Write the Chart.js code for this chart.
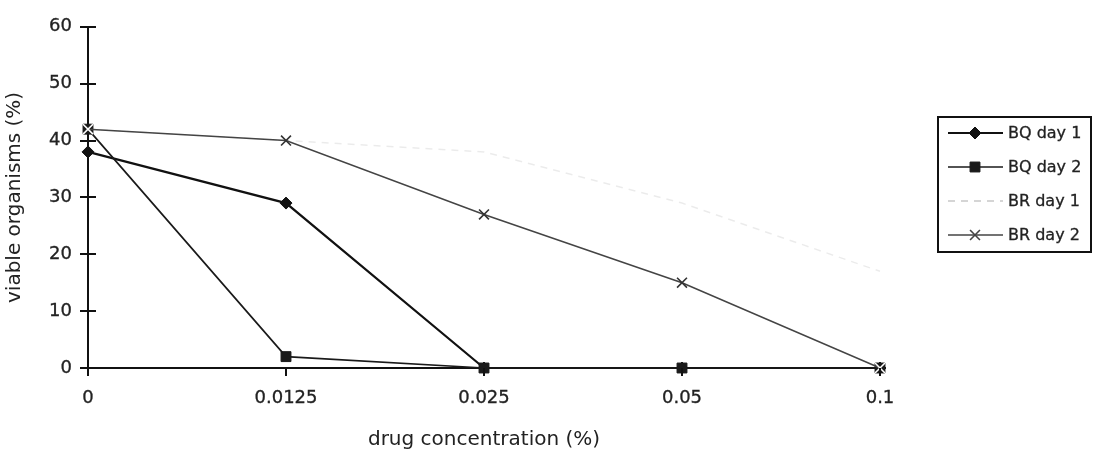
<!DOCTYPE html>
<html>
<head>
<meta charset="utf-8">
<script src="https://cdn.jsdelivr.net/npm/chart.js@4.4.1/dist/chart.umd.min.js"></script>
<style>
  html, body { margin: 0; padding: 0; background: #fff; }
  #wrap { width: 1117px; height: 460px; }
</style>
</head>
<body>
<div id="wrap"><canvas id="c" width="1117" height="460"></canvas></div>
<script>
// Drug concentrations (%) along the x axis
const concentrations = ['0', '0.0125', '0.025', '0.05', '0.1'];

// Viable organisms (%) per series
const bqDay1 = [38, 29, 0, 0, 0];
const bqDay2 = [42, 2, 0, 0, 0];
const brDay1 = [42, 40, 38, 29, 17];
const brDay2 = [42, 40, 27, 15, 0];

// Y axis tick values
const yTicks = [0, 10, 20, 30, 40, 50, 60];

const FONT = '"DejaVu Sans", "Liberation Sans", Arial, sans-serif';
const TEXT = '#222';

// Cross-shaped tick marks on the value axis and downward ticks on the category axis
const axisTicks = {
  id: 'axisTicks',
  afterDatasetsDraw(chart) {
    const { ctx, scales } = chart;
    const x0 = scales.x.left, y0 = scales.y.bottom;
    ctx.save();
    ctx.strokeStyle = '#111';
    ctx.lineWidth = 2;
    ctx.beginPath();
    yTicks.forEach(v => {
      const y = Math.round(scales.y.getPixelForValue(v));
      ctx.moveTo(x0 - 8, y); ctx.lineTo(x0 + 8, y);
    });
    concentrations.forEach((c, i) => {
      const x = Math.round(scales.x.getPixelForValue(i));
      ctx.moveTo(x, y0); ctx.lineTo(x, y0 + 8);
    });
    ctx.stroke();
    ctx.restore();
  }
};

// Boxed legend at the right
const boxLegend = {
  id: 'boxLegend',
  afterDraw(chart) {
    const { ctx } = chart;
    const left = 938, top = 117, right = 1091, bottom = 252;
    ctx.save();
    ctx.strokeStyle = '#111';
    ctx.lineWidth = 2;
    ctx.strokeRect(left, top, right - left, bottom - top);
    const rows = [133, 167, 201, 235];
    chart.data.datasets.forEach((ds, i) => {
      const y = rows[i];
      ctx.save();
      ctx.strokeStyle = ds.legendLineColor || ds.borderColor;
      ctx.lineWidth = ds.borderWidth;
      ctx.setLineDash(ds.borderDash || []);
      ctx.beginPath();
      ctx.moveTo(948, y); ctx.lineTo(1003, y);
      ctx.stroke();
      ctx.restore();
      if (ds.pointStyle && ds.pointRadius > 0) {
        ctx.save();
        ctx.fillStyle = ds.legendPointColor;
        ctx.strokeStyle = ds.legendPointColor;
        ctx.lineWidth = ds.pointBorderWidth;
        Chart.helpers.drawPoint(ctx, {
          pointStyle: ds.pointStyle,
          radius: ds.pointRadius,
          borderWidth: ds.pointBorderWidth,
          rotation: 0
        }, 975, y);
        ctx.restore();
      }
      ctx.fillStyle = TEXT;
      ctx.strokeStyle = TEXT;
      ctx.lineWidth = 0.3;
      ctx.font = '16px ' + FONT;
      ctx.textBaseline = 'middle';
      ctx.textAlign = 'left';
      ctx.fillText(ds.label, 1008, y + 1);
      ctx.strokeText(ds.label, 1008, y + 1);
    });
    ctx.restore();
  }
};

// X marker turns white where it sits on a square of BQ day 2
const brDay2MarkerColor = (c) =>
  (c.dataIndex !== undefined && bqDay2[c.dataIndex] === brDay2[c.dataIndex]) ? '#ffffff' : '#333333';

new Chart(document.getElementById('c'), {
  type: 'line',
  data: {
    labels: concentrations,
    datasets: [
      {
        label: 'BQ day 1', data: bqDay1, order: 3, clip: false,
        borderColor: '#111', borderWidth: 2.2, tension: 0,
        pointStyle: 'rectRot', pointRadius: 6, pointBorderWidth: 1,
        pointBackgroundColor: '#111', pointBorderColor: '#111',
        legendPointColor: '#111'
      },
      {
        label: 'BQ day 2', data: bqDay2, order: 2, clip: false,
        borderColor: '#1a1a1a', borderWidth: 1.7, tension: 0,
        pointStyle: 'rect', pointRadius: 7, pointBorderWidth: 1,
        pointBackgroundColor: '#1a1a1a', pointBorderColor: '#1a1a1a',
        legendPointColor: '#1a1a1a'
      },
      {
        label: 'BR day 1', data: brDay1, order: 4, clip: false,
        borderColor: 'rgba(0,0,0,0.08)', borderWidth: 1.5, borderDash: [7, 6], tension: 0,
        pointStyle: 'crossRot', pointRadius: 0, pointBorderWidth: 1,
        legendLineColor: 'rgba(0,0,0,0.22)',
        legendPointColor: 'rgba(0,0,0,0.1)'
      },
      {
        label: 'BR day 2', data: brDay2, order: 1, clip: false,
        borderColor: '#444', borderWidth: 1.5, tension: 0,
        pointStyle: 'crossRot', pointRadius: 7, pointBorderWidth: 1.6,
        pointBackgroundColor: brDay2MarkerColor, pointBorderColor: brDay2MarkerColor,
        legendPointColor: '#444'
      }
    ]
  },
  options: {
    responsive: false,
    animation: false,
    events: [],
    layout: { padding: { top: 16, right: 237, left: 0, bottom: 0 } },
    plugins: {
      legend: { display: false },
      tooltip: { enabled: false },
      title: { display: false }
    },
    scales: {
      x: {
        type: 'category',
        offset: false,
        grid: { display: false, drawTicks: false },
        border: { display: true, color: '#111', width: 2 },
        ticks: {
          color: TEXT, font: { family: FONT, size: 18 }, padding: 20, maxRotation: 0, autoSkip: false,
          textStrokeColor: TEXT, textStrokeWidth: 0.3
        },
        title: {
          display: true, text: 'drug concentration (%)', color: TEXT,
          font: { family: FONT, size: 20 }, padding: { top: 9, bottom: 8 }
        },
        afterFit(scale) { scale.height = 92; }
      },
      y: {
        min: 0, max: 60,
        grid: { display: false, drawTicks: false },
        border: { display: true, color: '#111', width: 2 },
        ticks: {
          color: TEXT, font: { family: FONT, size: 18 }, padding: 16, stepSize: 10,
          textStrokeColor: TEXT, textStrokeWidth: 0.3
        },
        title: {
          display: true, text: 'viable organisms (%)', color: TEXT,
          font: { family: FONT, size: 20 }, padding: { top: 3, bottom: 0 }
        },
        afterFit(scale) { scale.width = 88; }
      }
    }
  },
  plugins: [axisTicks, boxLegend]
});
</script>
</body>
</html>
